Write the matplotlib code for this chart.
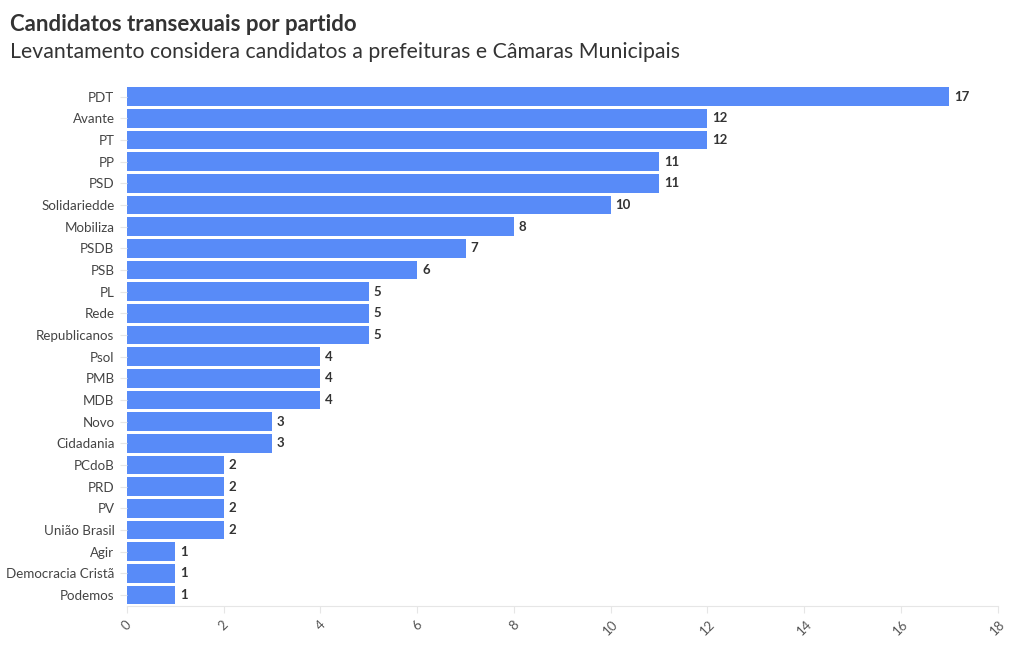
import matplotlib
matplotlib.use("Agg")
import matplotlib.pyplot as plt

plt.rcParams['font.family'] = ['Lato', 'DejaVu Sans']

# data, top to bottom
partidos = ['PDT', 'Avante', 'PT', 'PP', 'PSD', 'Solidariedde', 'Mobiliza', 'PSDB',
            'PSB', 'PL', 'Rede', 'Republicanos', 'Psol', 'PMB', 'MDB', 'Novo',
            'Cidadania', 'PCdoB', 'PRD', 'PV', 'União Brasil', 'Agir',
            'Democracia Cristã', 'Podemos']
candidatos = [17, 12, 12, 11, 11, 10, 8, 7, 6, 5, 5, 5, 4, 4, 4, 3, 3, 2, 2, 2, 2, 1, 1, 1]
x_ticks = [0, 2, 4, 6, 8, 10, 12, 14, 16, 18]

fig = plt.figure(figsize=(10.2, 6.5), dpi=100)
ax = fig.add_axes([0.1245, 0.068, 0.8535, 0.8])

pos = list(range(len(partidos)))
ax.barh(pos, candidatos, height=0.86, color='#588bf8')
for p, v in zip(pos, candidatos):
    ax.text(v + 0.1, p, str(v), va='center', ha='left', fontsize=9.5,
            fontweight='bold', color='#333333')

ax.set_ylim(len(partidos) - 0.5, -0.5)
ax.set_xlim(0, 18)
ax.set_yticks(pos)
ax.set_yticklabels(partidos, fontsize=9.6, color='#444444')
ax.set_xticks(x_ticks)
ax.set_xticklabels([str(t) for t in x_ticks], rotation=45, fontsize=9.5,
                   color='#555555', ha='center', va='top')

for s in ['top', 'right', 'left']:
    ax.spines[s].set_visible(False)
ax.spines['bottom'].set_color('#e6e6e6')
ax.tick_params(axis='y', length=5, color='#e6e6e6', pad=4)
ax.tick_params(axis='x', length=5, color='#e6e6e6', pad=4)

fig.text(0.0098, 0.963, 'Candidatos transexuais por partido', fontsize=16,
         fontweight='bold', color='#333333', va='center', ha='left')
fig.text(0.0098, 0.92, 'Levantamento considera candidatos a prefeituras e Câmaras Municipais',
         fontsize=15.3, color='#333333', va='center', ha='left')

fig.savefig('out.png', dpi=100)
